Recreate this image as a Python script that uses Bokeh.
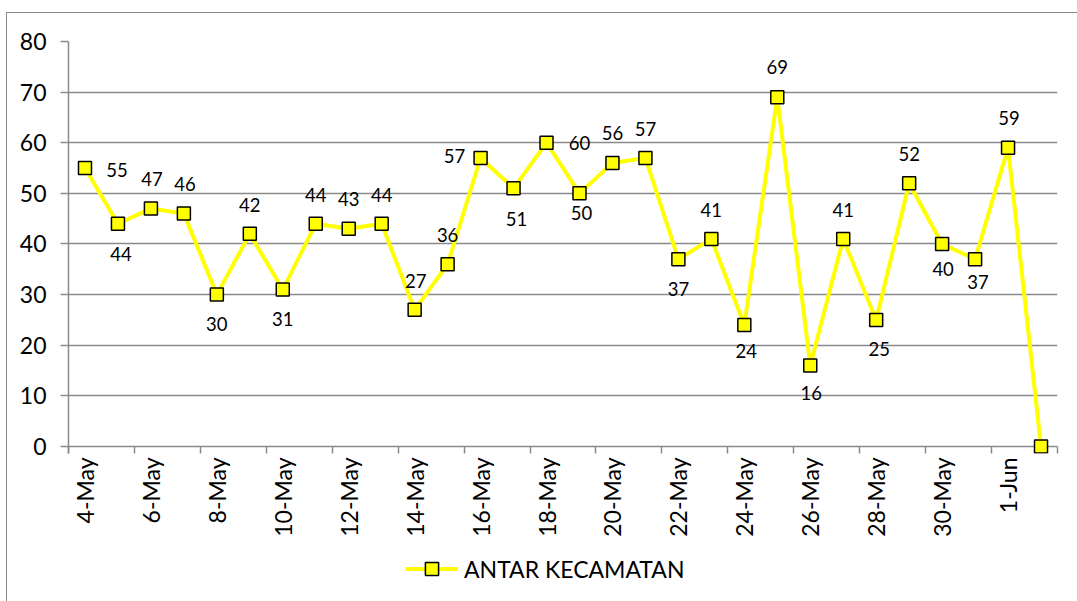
import math
from bokeh.plotting import figure
from bokeh.layouts import column
from bokeh.models import ColumnDataSource, FixedTicker, Legend, LegendItem
from bokeh.embed import file_html
from bokeh.resources import INLINE
from bokeh.core.properties import value

# ---- data ----
dates = ["4-May", "5-May", "6-May", "7-May", "8-May", "9-May", "10-May", "11-May",
         "12-May", "13-May", "14-May", "15-May", "16-May", "17-May", "18-May", "19-May",
         "20-May", "21-May", "22-May", "23-May", "24-May", "25-May", "26-May", "27-May",
         "28-May", "29-May", "30-May", "31-May", "1-Jun", "2-Jun"]
counts = [55, 44, 47, 46, 30, 42, 31, 44, 43, 44,
          27, 36, 57, 51, 60, 50, 56, 57, 37, 41,
          24, 69, 16, 41, 25, 52, 40, 37, 59, 0]
series_name = "ANTAR KECAMATAN"
y_ticks = [0, 10, 20, 30, 40, 50, 60, 70, 80]

# ---- label placement (screen px offsets, styling only) ----
label_dx = [32, 3, 1, 1, 0, 0, 0, 0, 0, 0,
            1, 0, -26, 3, 33, 2, 0, 0, 0, 0,
            2, 0, 1, 0, 3, 0, 1, 3, 1, 0]
label_dy = [2, 30, -30, -30, 29, -29, 29, -29, -30, -29,
            -29, -29, -2, 31, 0, 20, -30, -29, 30, -29,
            26, -30, 28, -29, 29, -29, 25, 23, -30, 0]
label_shown = [True] * 29 + [False]

FONT = "Lato"
GRID = "#8a8a8a"
YELLOW = "#FFFF00"

idx = list(range(len(dates)))
src = ColumnDataSource(dict(x=idx, y=counts))
lab_src = ColumnDataSource(dict(
    x=idx, y=counts,
    t=[str(v) if s else "" for v, s in zip(counts, label_shown)],
    dx=label_dx, dy=label_dy))

p = figure(width=1070, height=540,
           x_range=(-0.5, len(dates) - 0.5), y_range=(-1.383, 80),
           output_backend="svg", toolbar_location=None,
           min_border_left=61, min_border_right=20,
           min_border_top=28, min_border_bottom=100)
p.outline_line_color = None
p.background_fill_color = "white"
p.border_fill_color = "white"

# grid
p.xgrid.visible = False
p.ygrid.ticker = FixedTicker(ticks=y_ticks)
p.ygrid.grid_line_color = GRID
p.ygrid.grid_line_width = 1.5

# y axis
ya = p.yaxis[0]
ya.ticker = FixedTicker(ticks=y_ticks)
ya.axis_line_color = GRID
ya.axis_line_width = 1.5
ya.major_tick_line_color = GRID
ya.major_tick_line_width = 1.5
ya.major_tick_out = 8
ya.major_tick_in = 0
ya.minor_tick_line_color = None
ya.major_label_standoff = 14
ya.major_label_text_font = FONT
ya.major_label_text_font_size = "23px"
ya.major_label_text_color = "black"

# x axis (sits at frame bottom; ticks reach up to the zero gridline)
xa = p.xaxis[0]
xa.ticker = FixedTicker(ticks=idx[::2], minor_ticks=[i - 0.5 for i in range(0, len(dates) + 1, 2)])
xa.major_label_overrides = {i: dates[i] for i in idx[::2]}
xa.axis_line_color = None
xa.major_tick_line_color = None
xa.major_tick_out = 0
xa.major_tick_in = 0
xa.minor_tick_line_color = GRID
xa.minor_tick_line_width = 1.5
xa.minor_tick_out = 0
xa.minor_tick_in = 7
xa.major_label_orientation = math.pi / 2
xa.major_label_standoff = 4
xa.major_label_text_font = FONT
xa.major_label_text_font_size = "23px"
xa.major_label_text_color = "black"

# series
line_r = p.line("x", "y", source=src, line_color=YELLOW, line_width=4)
scat_r = p.scatter("x", "y", source=src, marker="square", size=13,
                   fill_color=YELLOW, line_color="black", line_width=1.5)

p.text("x", "y", text="t", source=lab_src, x_offset="dx", y_offset="dy",
       text_font=value(FONT), text_font_size="18.5px", text_color="black",
       text_align="center", text_baseline="middle")

# ---- legend strip below the chart (same series, drawn outside its view) ----
p2 = figure(width=1070, height=48, x_range=(-1000, -999), y_range=(-1000, -999),
            output_backend="svg", toolbar_location=None,
            x_axis_location=None, y_axis_location=None, min_border=0)
p2.outline_line_color = None
p2.grid.visible = False
p2.background_fill_color = "white"
p2.border_fill_color = "white"
leg_line = p2.line("x", "y", source=src, line_color=YELLOW, line_width=4)
leg_mark = p2.scatter("x", "y", source=src, marker="square", size=13,
                      fill_color=YELLOW, line_color="black", line_width=1.5)
legend = Legend(items=[LegendItem(label=series_name, renderers=[leg_line, leg_mark])],
                location=(337, 16), orientation="horizontal",
                glyph_width=53, glyph_height=33, label_standoff=6,
                padding=0, margin=0, border_line_color=None,
                background_fill_alpha=0,
                label_text_font=FONT, label_text_font_size="23px",
                label_text_color="black")
p2.add_layout(legend)

layout = column(p, p2, spacing=0,
                styles={"margin-top": "12px", "margin-left": "6px",
                        "border-top": "1px solid #8a8a8a",
                        "border-left": "1px solid #8a8a8a"})

open("out.html", "w").write(file_html(layout, INLINE))
